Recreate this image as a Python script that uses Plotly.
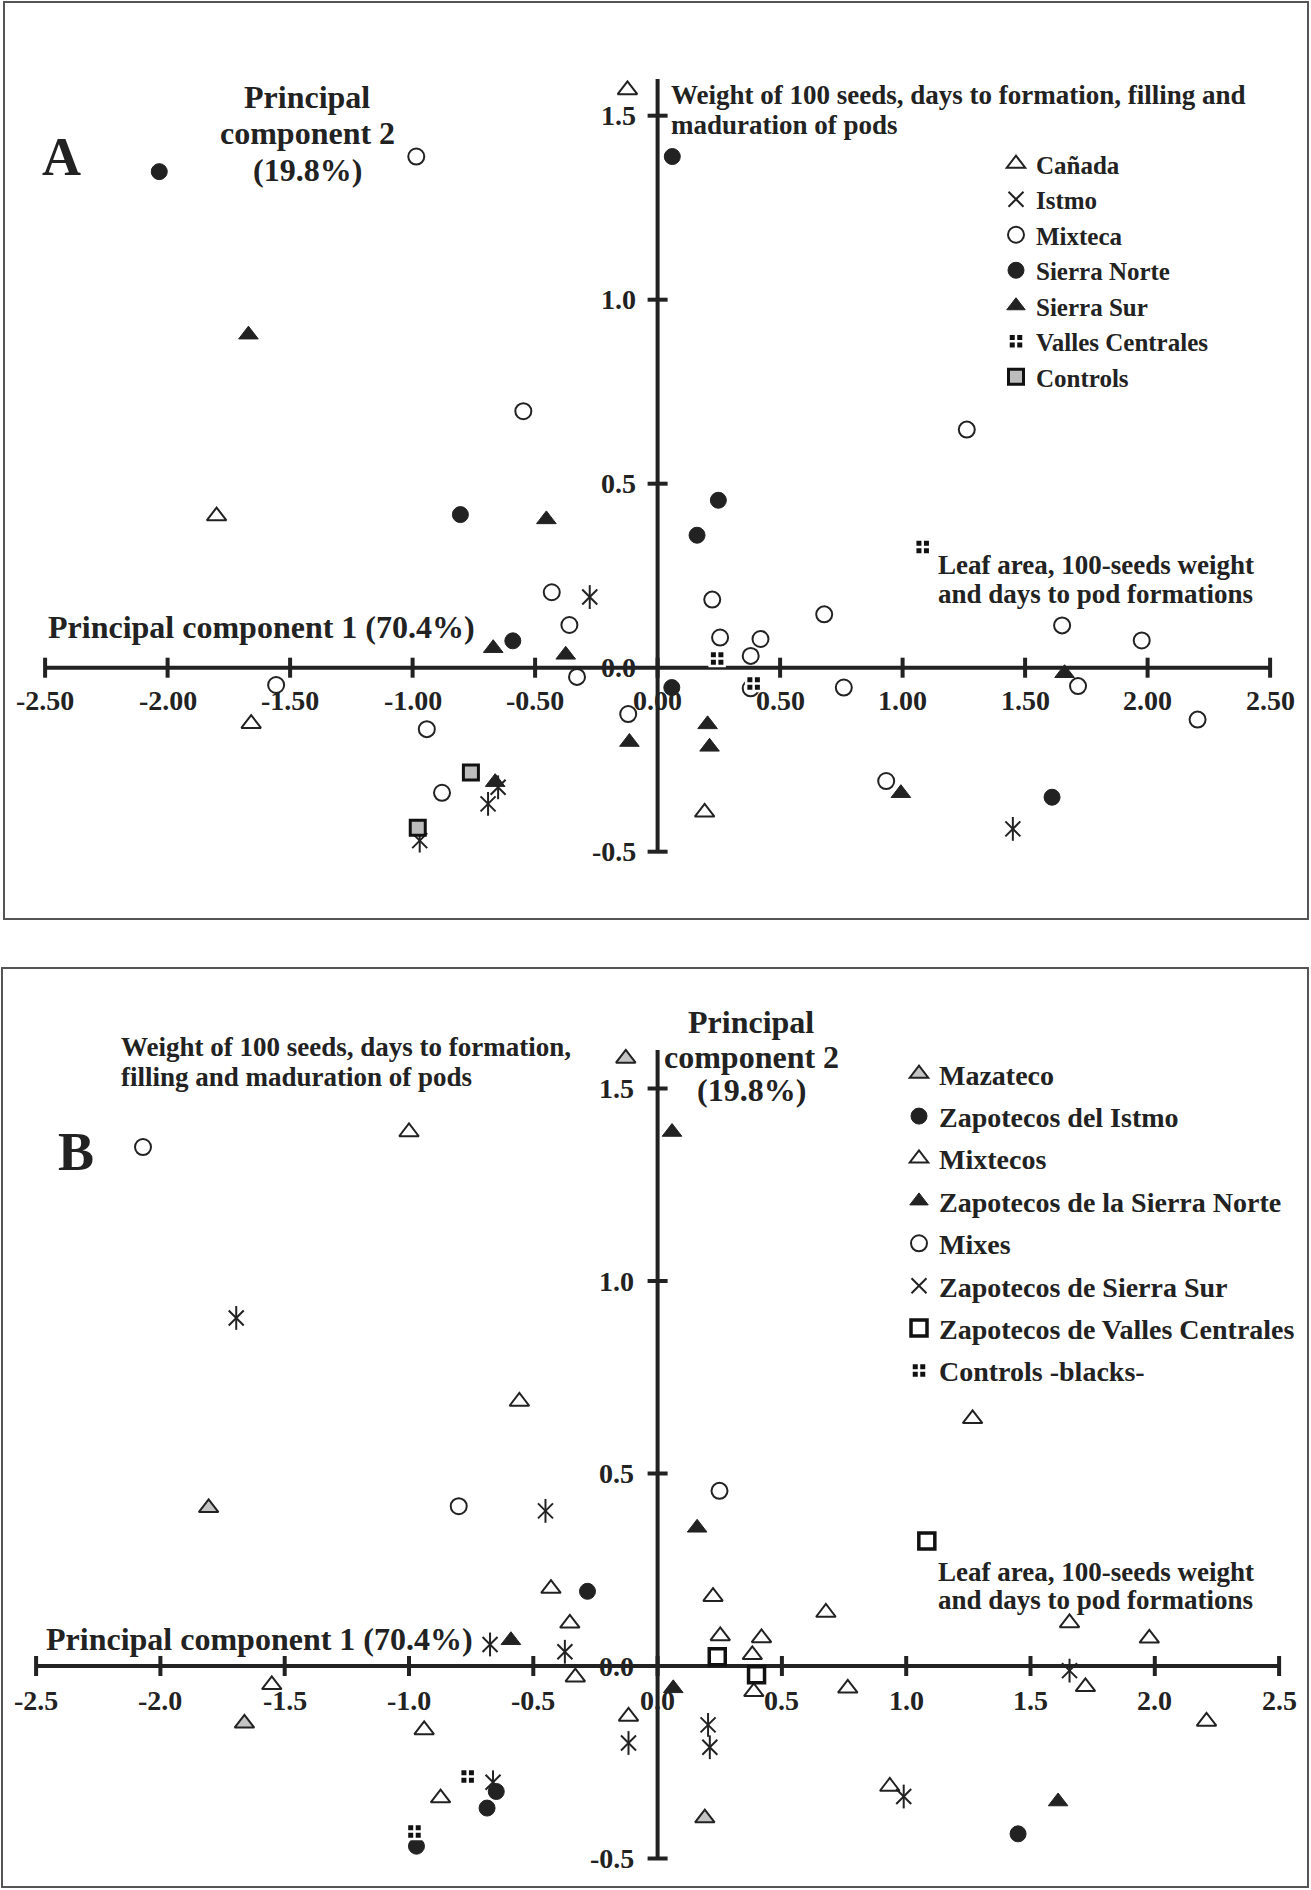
import plotly.graph_objects as go

SCREEN_W, SCREEN_H = 1311, 1890
OFF = 0                      # body margin removed by post_script below
W, H = SCREEN_W - OFF, SCREEN_H - OFF
FONT = "Liberation Serif"

# ---------------- Panel A data (regions) ----------------
a_canada_x = [-0.123, -1.80, -1.659, 0.192]
a_canada_y = [1.57, 0.412, -0.152, -0.393]
a_istmo_x = [-0.277, -0.651, -0.692, -0.971, 1.45]
a_istmo_y = [0.192, -0.325, -0.37, -0.47, -0.438]
a_mixteca_x = [-0.985, -0.548, 1.262, -0.432, -0.36, -0.329, -1.557, -0.942, -0.12, -0.88,
               0.223, 0.68, 0.255, 0.42, 0.38, 0.38, 0.76, 1.651, 1.976, 1.716, 2.204, 0.933]
a_mixteca_y = [1.389, 0.697, 0.647, 0.205, 0.116, -0.025, -0.047, -0.167, -0.126, -0.34,
               0.185, 0.145, 0.082, 0.078, 0.032, -0.056, -0.054, 0.115, 0.074, -0.05, -0.141, -0.308]
a_snorte_x = [-2.034, 0.06, -0.805, -0.591, 0.248, 0.161, 0.058, 1.61]
a_snorte_y = [1.348, 1.389, 0.416, 0.073, 0.455, 0.36, -0.054, -0.352]
a_ssur_x = [-1.67, -0.454, -0.671, -0.375, -0.115, -0.663, 1.661, 0.204, 0.212, 0.993]
a_ssur_y = [0.905, 0.403, 0.053, 0.035, -0.202, -0.311, -0.015, -0.154, -0.215, -0.341]
a_valles_x = [1.082, 0.243, 0.392]
a_valles_y = [0.328, 0.025, -0.043]
a_controls_x = [-0.762, -0.979]
a_controls_y = [-0.285, -0.435]

# ---------------- Panel B data (ethnic groups) ----------------
b_mazateco_x = [-0.128, -1.806, -1.662, 0.19]
b_mazateco_y = [1.578, 0.411, -0.149, -0.395]
b_zistmo_x = [-0.282, -0.649, -0.686, -0.97, 1.45]
b_zistmo_y = [0.194, -0.326, -0.369, -0.468, -0.436]
b_mixtecos_x = [-1.0, -0.556, 1.267, -0.429, -0.353, -0.331, -1.552, -0.939, -0.117, -0.873,
                0.223, 0.677, 0.252, 0.418, 0.381, 0.387, 0.765, 1.657, 1.978, 1.721, 2.208, 0.934]
b_mixtecos_y = [1.387, 0.687, 0.642, 0.201, 0.111, -0.029, -0.049, -0.166, -0.131, -0.343,
                0.18, 0.139, 0.078, 0.073, 0.029, -0.067, -0.058, 0.112, 0.072, -0.054, -0.144, -0.313]
b_zsnorte_x = [0.058, -0.59, 0.159, 0.063, 1.611]
b_zsnorte_y = [1.387, 0.067, 0.359, -0.058, -0.352]
b_mixes_x = [-2.07, -0.80, 0.249]
b_mixes_y = [1.348, 0.415, 0.455]
b_zssur_x = [-1.695, -0.451, -0.674, -0.373, -0.117, -0.662, 1.657, 0.203, 0.21, 0.99]
b_zssur_y = [0.904, 0.403, 0.056, 0.037, -0.2, -0.302, -0.012, -0.153, -0.211, -0.339]
b_zvalles_x = [1.083, 0.24, 0.398]
b_zvalles_y = [0.325, 0.024, -0.023]
b_controls_x = [-0.764, -0.978]
b_controls_y = [-0.287, -0.43]

# ---------------- Ticks ----------------
x_ticks = [-2.5, -2.0, -1.5, -1.0, -0.5, 0.0, 0.5, 1.0, 1.5, 2.0, 2.5]
a_x_ticklabels = ["-2.50", "-2.00", "-1.50", "-1.00", "-0.50", "0.00", "0.50", "1.00", "1.50", "2.00", "2.50"]
b_x_ticklabels = ["-2.5", "-2.0", "-1.5", "-1.0", "-0.5", "0.0", "0.5", "1.0", "1.5", "2.0", "2.5"]
y_ticks = [-0.5, 0.0, 0.5, 1.0, 1.5]
y_ticklabels = ["-0.5", "0.0", "0.5", "1.0", "1.5"]

fig = go.Figure()

def add_series(xs, ys, name, sym, color, line_color, lw, size, xa, ya, legend):
    fig.add_trace(go.Scatter(
        x=xs, y=ys, mode="markers", name=name, xaxis=xa, yaxis=ya,
        legend=legend, legendgroup=legend + name,
        marker=dict(symbol=sym, color=color, size=size,
                    line=dict(color=line_color, width=lw)),
        hoverinfo="x+y+name"))

def add_asterisk(xs, ys, name, xa, ya, legend):
    add_series(xs, ys, name, "x-thin-open", "#222", "#222", 2, 15, xa, ya, legend)
    fig.add_trace(go.Scatter(
        x=xs, y=ys, mode="markers", name=name, xaxis=xa, yaxis=ya,
        legend=legend, legendgroup=legend + name, showlegend=False,
        marker=dict(symbol="line-ns-open", color="#222", size=17,
                    line=dict(color="#222", width=2)),
        hoverinfo="skip"))

# Panel A traces
add_series(a_canada_x, a_canada_y, "Cañada", "triangle-up", "white", "#222", 2, 17, "x", "y", "legend")
add_asterisk(a_istmo_x, a_istmo_y, "Istmo", "x", "y", "legend")
add_series(a_mixteca_x, a_mixteca_y, "Mixteca", "circle", "white", "#222", 2, 16, "x", "y", "legend")
add_series(a_snorte_x, a_snorte_y, "Sierra Norte", "circle", "#222", "#222", 1, 16, "x", "y", "legend")
add_series(a_ssur_x, a_ssur_y, "Sierra Sur", "triangle-up", "#222", "#222", 1, 17, "x", "y", "legend")
add_series(a_valles_x, a_valles_y, "Valles Centrales", "square-cross", "#111", "white", 2.5, 15, "x", "y", "legend")
add_series(a_controls_x, a_controls_y, "Controls", "square", "#bdbdbd", "#111", 3, 15, "x", "y", "legend")

# Panel B traces
add_series(b_mazateco_x, b_mazateco_y, "Mazateco", "triangle-up", "#c4c4c4", "#222", 2, 17, "x2", "y2", "legend2")
add_series(b_zistmo_x, b_zistmo_y, "Zapotecos del Istmo", "circle", "#222", "#222", 1, 16, "x2", "y2", "legend2")
add_series(b_mixtecos_x, b_mixtecos_y, "Mixtecos", "triangle-up", "white", "#222", 2, 17, "x2", "y2", "legend2")
add_series(b_zsnorte_x, b_zsnorte_y, "Zapotecos de la Sierra Norte", "triangle-up", "#222", "#222", 1, 17, "x2", "y2", "legend2")
add_series(b_mixes_x, b_mixes_y, "Mixes", "circle", "white", "#222", 2, 16, "x2", "y2", "legend2")
add_asterisk(b_zssur_x, b_zssur_y, "Zapotecos de Sierra Sur", "x2", "y2", "legend2")
add_series(b_zvalles_x, b_zvalles_y, "Zapotecos de Valles Centrales", "square", "white", "#111", 3.5, 16, "x2", "y2", "legend2")
add_series(b_controls_x, b_controls_y, "Controls -blacks-", "square-cross", "#111", "white", 2.5, 15, "x2", "y2", "legend2")

shapes = []
annotations = []

def px2paper_x(px):
    return (px - OFF) / W

def px2paper_y(py):
    return 1 - (py - OFF) / H

AX_COLOR = "#222"
TICK_FONT = dict(family=FONT, size=28, color="#222", weight="bold")

def build_axes(xr, yr, x_labels, ylab_shift, xlab_shift, ytop):
    shapes.append(dict(type="line", xref=xr, yref=yr, x0=x_ticks[0], x1=x_ticks[-1], y0=0, y1=0,
                       line=dict(color=AX_COLOR, width=4), layer="below"))
    shapes.append(dict(type="line", xref=xr, yref=yr, x0=0, x1=0, y0=y_ticks[0], y1=ytop,
                       line=dict(color=AX_COLOR, width=4), layer="below"))
    for t, lab in zip(x_ticks, x_labels):
        shapes.append(dict(type="line", xref=xr, yref=yr, ysizemode="pixel", yanchor=0,
                           x0=t, x1=t, y0=-10, y1=10,
                           line=dict(color=AX_COLOR, width=4), layer="below"))
        annotations.append(dict(xref=xr, yref=yr, x=t, y=0, yshift=xlab_shift, text=lab,
                                showarrow=False, xanchor="center", yanchor="middle",
                                font=TICK_FONT))
    for t, lab in zip(y_ticks, y_ticklabels):
        if t != 0:
            shapes.append(dict(type="line", xref=xr, yref=yr, xsizemode="pixel", xanchor=0,
                               x0=-10, x1=10, y0=t, y1=t,
                               line=dict(color=AX_COLOR, width=4), layer="below"))
        annotations.append(dict(xref=xr, yref=yr, x=0, y=t, xshift=ylab_shift, text=lab,
                                showarrow=False, xanchor="right", yanchor="middle",
                                font=TICK_FONT))

build_axes("x", "y", a_x_ticklabels, -20, -33, 1.6)
build_axes("x2", "y2", b_x_ticklabels, -22, -34, 1.6)

def text(px, py, s, size, anchor="left", bold=True):
    annotations.append(dict(xref="paper", yref="paper", x=px2paper_x(px), y=px2paper_y(py),
                            text=s, showarrow=False, xanchor=anchor, yanchor="middle",
                            font=dict(family=FONT, size=size, color="#222",
                                      weight="bold" if bold else "normal")))

# Panel A texts
text(61, 157, "A", 54, "center")
text(307, 97, "Principal", 32, "center")
text(307, 133, "component 2", 32, "center")
text(307, 170, "(19.8%)", 32, "center")
text(669, 95, "Weight of 100 seeds, days to formation, filling and", 27)
text(669, 125, "maduration of pods", 27)
text(936, 565, "Leaf area, 100-seeds weight", 27)
text(936, 594, "and days to pod formations", 27)
text(46, 627, "Principal component 1 (70.4%)", 32)

# Panel B texts
text(76, 1152, "B", 54, "center")
text(119, 1047, "Weight of 100 seeds, days to formation,", 27)
text(119, 1077, "filling and maduration of pods", 27)
text(751, 1022, "Principal", 32, "center")
text(751, 1057, "component 2", 32, "center")
text(751, 1090, "(19.8%)", 32, "center")
text(936, 1572, "Leaf area, 100-seeds weight", 27)
text(936, 1600, "and days to pod formations", 27)
text(44, 1639, "Principal component 1 (70.4%)", 32)

# panel frames
shapes.append(dict(type="rect", xref="paper", yref="paper",
                   x0=px2paper_x(4), x1=px2paper_x(1308), y0=px2paper_y(919), y1=px2paper_y(2),
                   line=dict(color="#555", width=2)))
shapes.append(dict(type="rect", xref="paper", yref="paper",
                   x0=px2paper_x(2), x1=px2paper_x(1308), y0=px2paper_y(1887), y1=px2paper_y(968),
                   line=dict(color="#555", width=2)))

# axis ranges mapping to screen-pixel layout
a_x0, a_scale = 657.6, 245.0
a_y0, a_yscale = 667.7, 368.0
b_x0, b_scale = 657.6, 248.6
b_y0, b_yscale = 1666.0, 385.0
a_top, a_bot = OFF, 925
b_top, b_bot = 930, SCREEN_H

def xrange(x0, sc):
    return [(OFF - x0) / sc, (SCREEN_W - x0) / sc]

fig.update_layout(
    width=W, height=H, margin=dict(l=0, r=0, t=0, b=0),
    paper_bgcolor="white", plot_bgcolor="white",
    xaxis=dict(domain=[0, 1], range=xrange(a_x0, a_scale), visible=False, anchor="y"),
    yaxis=dict(domain=[px2paper_y(a_bot), px2paper_y(a_top)],
               range=[(a_y0 - a_bot) / a_yscale, (a_y0 - a_top) / a_yscale], visible=False, anchor="x"),
    xaxis2=dict(domain=[0, 1], range=xrange(b_x0, b_scale), visible=False, anchor="y2"),
    yaxis2=dict(domain=[px2paper_y(b_bot), px2paper_y(b_top)],
                range=[(b_y0 - b_bot) / b_yscale, (b_y0 - b_top) / b_yscale], visible=False, anchor="x2"),
    shapes=shapes, annotations=annotations,
    legend=dict(x=px2paper_x(996), y=px2paper_y(141), xanchor="left", yanchor="top",
                bgcolor="rgba(0,0,0,0)", tracegroupgap=0, itemsizing="trace",
                font=dict(family=FONT, size=25, color="#222", weight="bold")),
    legend2=dict(x=px2paper_x(899), y=px2paper_y(1049), xanchor="left", yanchor="top",
                 bgcolor="rgba(0,0,0,0)", tracegroupgap=3, itemsizing="trace",
                 font=dict(family=FONT, size=28, color="#222", weight="bold")),
    showlegend=True,
)

fig.write_html("out.html", config={"displayModeBar": False},
               post_script="document.body.style.margin='0px';document.documentElement.style.overflow='hidden';document.body.style.overflow='hidden';")
